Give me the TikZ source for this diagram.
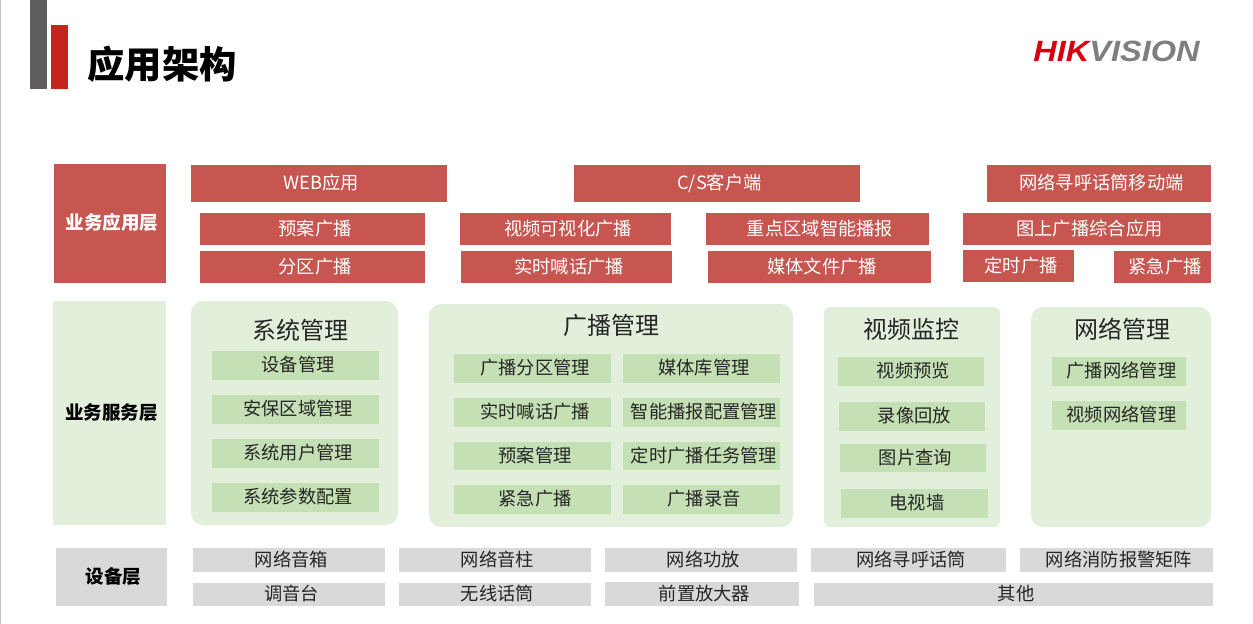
\documentclass[tikz,border=0pt]{standalone}
\usepackage{fontspec}
\setmainfont{Noto Sans CJK SC}
\newfontfamily\logofont{Liberation Sans}
\definecolor{appred}{HTML}{C75550}
\definecolor{svcgreen}{HTML}{E2EFDA}
\definecolor{itemgreen}{HTML}{C5E0B4}
\definecolor{devgray}{HTML}{D9D9D9}
\definecolor{txtgray}{HTML}{262626}
\definecolor{hikred}{HTML}{D7000F}
\definecolor{hikgray}{HTML}{7F7F7F}
\definecolor{bargray}{HTML}{5F5E5C}
\definecolor{barred}{HTML}{C4261D}
\tikzset{
	sized/.style 2 args={minimum width=#1*0.75pt, minimum height=#2*0.75pt, inner sep=0pt},
	labelled/.style={text height=9.5pt, text depth=0pt, execute at begin node={\hspace*{#1}}},
	layerbox/.style={labelled=2.8pt, font=\fontsize{13.9pt}{16pt}\selectfont\bfseries, text=black},
	appbox/.style={labelled=3.75pt, fill=appred, text=white, font=\fontsize{13.7pt}{16pt}\selectfont},
	panelbox/.style={fill=svcgreen, rounded corners=9pt},
	paneltitle/.style={font=\fontsize{18pt}{20pt}\selectfont, text=txtgray, inner sep=0pt},
	itembox/.style={labelled=3.75pt, fill=itemgreen, text=txtgray, font=\fontsize{13.7pt}{16pt}\selectfont},
	devbox/.style={labelled=3.75pt, fill=devgray, text=txtgray, font=\fontsize{13.7pt}{16pt}\selectfont}
}
\begin{document}
\begin{tikzpicture}[x=0.75pt, y=-0.75pt]
	\useasboundingbox (0,0) rectangle (1253,624);
	\fill[white] (0,0) rectangle (1253,624);
	\fill[black!25] (0,0) rectangle (1.2,624);

	% Header
	\node[sized={17}{89}, fill=bargray] (barGray) at (38.5,44.5) {};
	\node[sized={17}{64}, fill=barred] (barRed) at (59.5,57) {};
	\node[font=\fontsize{28pt}{30pt}\selectfont\bfseries, inner sep=0pt] (title) at (162,64.5) {应用架构};
	\node[font=\logofont\fontsize{22pt}{24pt}\selectfont\bfseries\itshape, inner sep=0pt, xscale=1.11] (logo) at (1116.5,51)
		{\textcolor{hikred}{HIK}\textcolor{hikgray}{VISION}};

	% Application layer
	\node[sized={112}{119}, fill=appred, layerbox, text=white] (appLayer) at (110,223.5) {业务应用层};
	\node[sized={256}{37}, appbox] (web) at (319,183.5) {WEB应用};
	\node[sized={286}{37}, appbox] (cs) at (717,183.5) {C/S客户端};
	\node[sized={224}{37}, appbox] (mobile) at (1099,183.5) {网络寻呼话筒移动端};
	\node[sized={225}{32}, appbox] (plan) at (312.5,229) {预案广播};
	\node[sized={211}{32}, appbox] (visual) at (565.5,229) {视频可视化广播};
	\node[sized={223}{32}, appbox] (smart) at (817.5,229) {重点区域智能播报};
	\node[sized={248}{32}, appbox] (mapApp) at (1087,229) {图上广播综合应用};
	\node[sized={225}{32}, appbox] (zone) at (312.5,267) {分区广播};
	\node[sized={211}{32}, appbox] (talk) at (566.5,267) {实时喊话广播};
	\node[sized={223}{32}, appbox] (media) at (819.5,267) {媒体文件广播};
	\node[sized={111}{32}, appbox] (timed) at (1018.5,266) {定时广播};
	\node[sized={97}{32}, appbox] (urgent) at (1162.5,267) {紧急广播};

	% Service layer
	\node[sized={113}{224}, fill=svcgreen, layerbox] (svcLayer) at (109.5,413) {业务服务层};

	\node[sized={207}{224}, panelbox] (sysPanel) at (294.5,413) {};
	\node[paneltitle] (sysTitle) at (300,330) {系统管理};
	\node[sized={167}{29}, itembox] (sys1) at (295.5,365.5) {设备管理};
	\node[sized={167}{29}, itembox] (sys2) at (295.5,409.5) {安保区域管理};
	\node[sized={167}{29}, itembox] (sys3) at (295.5,453.5) {系统用户管理};
	\node[sized={167}{29}, itembox] (sys4) at (295.5,497.5) {系统参数配置};

	\node[sized={364}{223}, panelbox] (castPanel) at (611,415.5) {};
	\node[paneltitle] (castTitle) at (611,325) {广播管理};
	\node[sized={157}{29}, itembox] (cast1) at (532.5,368.5) {广播分区管理};
	\node[sized={157}{29}, itembox] (cast2) at (532.5,412.5) {实时喊话广播};
	\node[sized={157}{28}, itembox] (cast3) at (532.5,456) {预案管理};
	\node[sized={157}{29}, itembox] (cast4) at (532.5,499.5) {紧急广播};
	\node[sized={157}{29}, itembox] (cast5) at (701.5,368.5) {媒体库管理};
	\node[sized={157}{29}, itembox] (cast6) at (701.5,412.5) {智能播报配置管理};
	\node[sized={157}{28}, itembox] (cast7) at (701.5,456) {定时广播任务管理};
	\node[sized={157}{29}, itembox] (cast8) at (701.5,499.5) {广播录音};

	\node[sized={176}{220}, panelbox, rounded corners=5pt] (videoPanel) at (912,417) {};
	\node[paneltitle] (videoTitle) at (911,329) {视频监控};
	\node[sized={146}{29}, itembox] (video1) at (911,371.5) {视频预览};
	\node[sized={146}{29}, itembox] (video2) at (912,416.5) {录像回放};
	\node[sized={146}{28}, itembox] (video3) at (913,458) {图片查询};
	\node[sized={147}{29}, itembox] (video4) at (914.5,503.5) {电视墙};

	\node[sized={180}{220}, panelbox] (netPanel) at (1121,417) {};
	\node[paneltitle] (netTitle) at (1122,329) {网络管理};
	\node[sized={134}{29}, itembox] (net1) at (1119,371.5) {广播网络管理};
	\node[sized={134}{29}, itembox] (net2) at (1119,415.5) {视频网络管理};

	% Device layer
	\node[sized={111}{58}, fill=devgray, layerbox] (devLayer) at (111.5,577) {设备层};
	\node[sized={192}{24}, devbox] (dev1) at (289,560) {网络音箱};
	\node[sized={192}{24}, devbox] (dev2) at (495,560) {网络音柱};
	\node[sized={192}{24}, devbox] (dev3) at (701,560) {网络功放};
	\node[sized={195}{24}, devbox] (dev4) at (908.5,560) {网络寻呼话筒};
	\node[sized={193}{24}, devbox] (dev5) at (1116.5,560) {网络消防报警矩阵};
	\node[sized={192}{23}, devbox] (dev6) at (289,594.5) {调音台};
	\node[sized={192}{23}, devbox] (dev7) at (495,594.5) {无线话筒};
	\node[sized={194}{24}, devbox] (dev8) at (702,594) {前置放大器};
	\node[sized={399}{23}, devbox] (dev9) at (1013.5,594.5) {其他};
\end{tikzpicture}
\end{document}
